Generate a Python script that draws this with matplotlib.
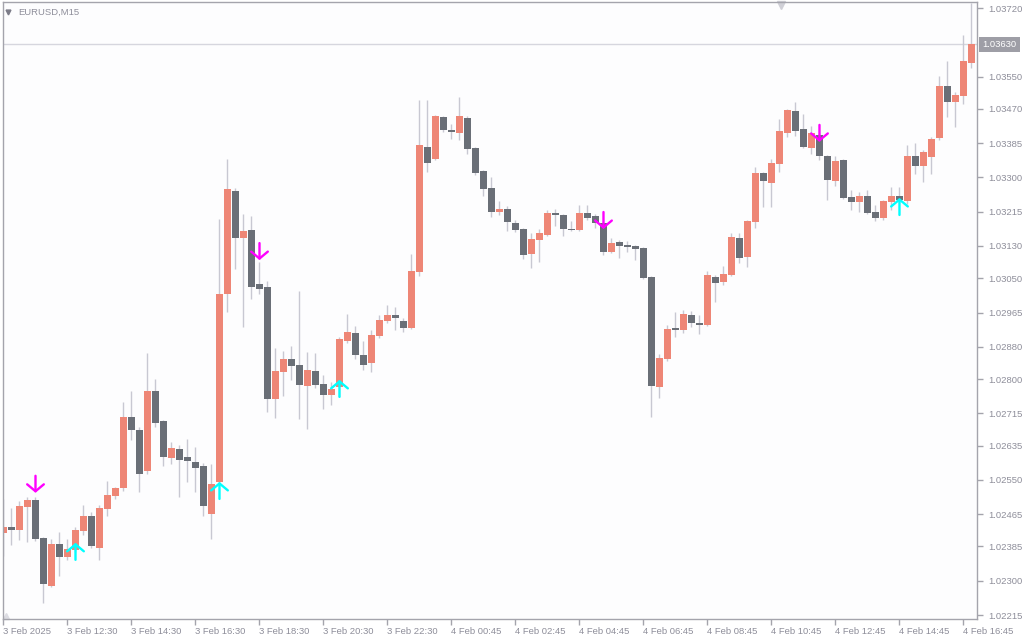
import numpy as np
import matplotlib
matplotlib.use("Agg")
import matplotlib.pyplot as plt
import matplotlib.transforms as mtransforms

# EURUSD M15 candles, 3 Feb 10:30 -> 4 Feb 17:00
opens = [1.02418, 1.02433, 1.02426, 1.02483, 1.02500, 1.02406, 1.02287, 1.02391, 1.02359, 1.02376,
         1.02423, 1.02460, 1.02381, 1.02478, 1.02510, 1.02530, 1.02706, 1.02674, 1.02572, 1.02770,
         1.02696, 1.02604, 1.02627, 1.02607, 1.02594, 1.02584, 1.02465, 1.02545, 1.03011, 1.03266,
         1.03150, 1.03170, 1.03036, 1.03028, 1.02751, 1.02817, 1.02850, 1.02835, 1.02783, 1.02820,
         1.02788, 1.02760, 1.02780, 1.02894, 1.02914, 1.02860, 1.02840, 1.02907, 1.02944, 1.02959,
         1.02944, 1.02927, 1.03065, 1.03375, 1.03346, 1.03450, 1.03417, 1.03410, 1.03447, 1.03373,
         1.03316, 1.03274, 1.03214, 1.03222, 1.03187, 1.03172, 1.03110, 1.03145, 1.03157, 1.03212,
         1.03207, 1.03172, 1.03170, 1.03212, 1.03204, 1.03187, 1.03115, 1.03140, 1.03132, 1.03130,
         1.03125, 1.03053, 1.02780, 1.02850, 1.02927, 1.02922, 1.02959, 1.02939, 1.02934, 1.03053,
         1.03041, 1.03058, 1.03150, 1.03103, 1.03189, 1.03311, 1.03286, 1.03333, 1.03410, 1.03465,
         1.03420, 1.03373, 1.03405, 1.03353, 1.03291, 1.03343, 1.03251, 1.03239, 1.03254, 1.03214,
         1.03199, 1.03239, 1.03254, 1.03241, 1.03353, 1.03328, 1.03351, 1.03398, 1.03527, 1.03487,
         1.03502, 1.03584]
highs = [1.02503, 1.02480, 1.02498, 1.02508, 1.02508, 1.02408, 1.02403, 1.02421, 1.02403, 1.02433,
         1.02488, 1.02470, 1.02488, 1.02547, 1.02532, 1.02743, 1.02770, 1.02681, 1.02865, 1.02800,
         1.02698, 1.02644, 1.02636, 1.02651, 1.02632, 1.02592, 1.02589, 1.03197, 1.03346, 1.03274,
         1.03209, 1.03204, 1.03090, 1.03043, 1.02877, 1.02870, 1.02882, 1.03018, 1.02867, 1.02865,
         1.02810, 1.02793, 1.02904, 1.02961, 1.02932, 1.02894, 1.02922, 1.02959, 1.02984, 1.02979,
         1.02951, 1.03110, 1.03492, 1.03492, 1.03455, 1.03452, 1.03432, 1.03499, 1.03452, 1.03375,
         1.03318, 1.03301, 1.03241, 1.03229, 1.03194, 1.03174, 1.03162, 1.03172, 1.03219, 1.03222,
         1.03209, 1.03192, 1.03232, 1.03232, 1.03209, 1.03192, 1.03150, 1.03145, 1.03142, 1.03132,
         1.03127, 1.03055, 1.02862, 1.02934, 1.02966, 1.02971, 1.02969, 1.02959, 1.03068, 1.03058,
         1.03080, 1.03162, 1.03162, 1.03194, 1.03326, 1.03313, 1.03346, 1.03445, 1.03470, 1.03487,
         1.03457, 1.03427, 1.03410, 1.03355, 1.03353, 1.03345, 1.03269, 1.03264, 1.03269, 1.03232,
         1.03244, 1.03276, 1.03276, 1.03380, 1.03385, 1.03368, 1.03400, 1.03551, 1.03589, 1.03512,
         1.03653, 1.03732]
lows = [1.02361, 1.02389, 1.02401, 1.02396, 1.02398, 1.02245, 1.02284, 1.02312, 1.02351, 1.02371,
        1.02413, 1.02381, 1.02351, 1.02460, 1.02503, 1.02522, 1.02649, 1.02520, 1.02565, 1.02681,
        1.02584, 1.02589, 1.02508, 1.02545, 1.02520, 1.02460, 1.02403, 1.02540, 1.02966, 1.03073,
        1.02929, 1.02998, 1.03011, 1.02718, 1.02703, 1.02758, 1.02798, 1.02701, 1.02676, 1.02778,
        1.02726, 1.02736, 1.02755, 1.02889, 1.02850, 1.02822, 1.02817, 1.02902, 1.02939, 1.02922,
        1.02917, 1.02924, 1.03056, 1.03313, 1.03343, 1.03413, 1.03395, 1.03393, 1.03358, 1.03306,
        1.03254, 1.03202, 1.03207, 1.03167, 1.03165, 1.03098, 1.03075, 1.03090, 1.03155, 1.03179,
        1.03155, 1.03167, 1.03167, 1.03194, 1.03175, 1.03108, 1.03113, 1.03100, 1.03115, 1.03095,
        1.03048, 1.02706, 1.02753, 1.02845, 1.02904, 1.02914, 1.02929, 1.02912, 1.02932, 1.02991,
        1.03033, 1.03056, 1.03088, 1.03078, 1.03175, 1.03227, 1.03227, 1.03313, 1.03400, 1.03403,
        1.03373, 1.03358, 1.03343, 1.03244, 1.03279, 1.03246, 1.03219, 1.03214, 1.03209, 1.03192,
        1.03194, 1.03219, 1.03237, 1.03234, 1.03308, 1.03289, 1.03308, 1.03393, 1.03450, 1.03425,
        1.03482, 1.03571]
closes = [1.02433, 1.02426, 1.02485, 1.02500, 1.02403, 1.02292, 1.02391, 1.02359, 1.02379, 1.02426,
          1.02460, 1.02386, 1.02480, 1.02513, 1.02530, 1.02706, 1.02674, 1.02565, 1.02770, 1.02691,
          1.02607, 1.02629, 1.02599, 1.02597, 1.02579, 1.02485, 1.02540, 1.03011, 1.03271, 1.03150,
          1.03167, 1.03028, 1.03023, 1.02751, 1.02820, 1.02850, 1.02832, 1.02785, 1.02822, 1.02785,
          1.02760, 1.02775, 1.02899, 1.02917, 1.02860, 1.02835, 1.02909, 1.02946, 1.02959, 1.02951,
          1.02927, 1.03068, 1.03380, 1.03336, 1.03452, 1.03417, 1.03413, 1.03452, 1.03370, 1.03311,
          1.03271, 1.03214, 1.03222, 1.03189, 1.03170, 1.03108, 1.03147, 1.03162, 1.03212, 1.03207,
          1.03172, 1.03170, 1.03212, 1.03199, 1.03187, 1.03115, 1.03137, 1.03130, 1.03127, 1.03122,
          1.03051, 1.02783, 1.02852, 1.02924, 1.02922, 1.02961, 1.02939, 1.02934, 1.03058, 1.03038,
          1.03060, 1.03152, 1.03100, 1.03192, 1.03311, 1.03291, 1.03336, 1.03415, 1.03467, 1.03415,
          1.03375, 1.03410, 1.03353, 1.03293, 1.03341, 1.03249, 1.03239, 1.03254, 1.03212, 1.03199,
          1.03241, 1.03254, 1.03244, 1.03353, 1.03328, 1.03363, 1.03395, 1.03527, 1.03487, 1.03504,
          1.03589, 1.03630]

# signal arrows: bar index and price at the arrow tip
sell_bars = [4, 32, 75, 102]
sell_prices = [1.02518, 1.03095, 1.03172, 1.03388]
buy_bars = [9, 27, 42, 112]
buy_prices = [1.02394, 1.02545, 1.02798, 1.03249]

last_price = 1.03630

x_labels = ["3 Feb 2025", "3 Feb 12:30", "3 Feb 14:30", "3 Feb 16:30", "3 Feb 18:30",
            "3 Feb 20:30", "3 Feb 22:30", "4 Feb 00:45", "4 Feb 02:45", "4 Feb 04:45",
            "4 Feb 06:45", "4 Feb 08:45", "4 Feb 10:45", "4 Feb 12:45", "4 Feb 14:45",
            "4 Feb 16:45"]
y_ticks = [1.03720, 1.03550, 1.03470, 1.03385, 1.03300, 1.03215, 1.03130, 1.03050,
           1.02965, 1.02880, 1.02800, 1.02715, 1.02635, 1.02550, 1.02465, 1.02385,
           1.02300, 1.02215]

bull_col = '#ee8676'
bear_col = '#6a6f77'
wick_col = '#c8c8d2'
text_col = '#8e8e9a'
frame_col = '#a4a4ac'

plt.rcParams['font.family'] = ['Liberation Sans', 'DejaVu Sans']

fig = plt.figure(figsize=(10.24, 6.4), dpi=100, facecolor='white')
ax = fig.add_axes([2.5 / 1024, 21 / 640, 974.5 / 1024, 617 / 640])
ax.set_facecolor('#fdfdfe')

o = np.array(opens)
h = np.array(highs)
l = np.array(lows)
c = np.array(closes)
idx = np.arange(len(o))
up = c >= o

ax.vlines(idx, l, h, color=wick_col, lw=1, zorder=1)
body_h = np.maximum(np.abs(c - o), 0.00002)
ax.bar(idx, body_h, bottom=np.minimum(o, c), width=0.86,
       color=np.where(up, bull_col, bear_col), linewidth=0, zorder=2)

# current price line
ax.axhline(last_price, color='#d6d6de', lw=1, zorder=0)

arrow_style = '->,head_length=0.5,head_width=0.6'
for b, p in zip(sell_bars, sell_prices):
    ax.annotate('', xy=(b, p), xytext=(0, 17), textcoords='offset pixels',
                arrowprops=dict(arrowstyle=arrow_style, color='#ff00ff', lw=1.7,
                                shrinkA=0, shrinkB=0), zorder=4)
for b, p in zip(buy_bars, buy_prices):
    ax.annotate('', xy=(b, p), xytext=(0, -17), textcoords='offset pixels',
                arrowprops=dict(arrowstyle=arrow_style, color='#00ffff', lw=1.7,
                                shrinkA=0, shrinkB=0), zorder=4)

ax.set_xlim(-0.125, 121.69)
ax.set_ylim(1.022051, 1.037349)

ax.set_xticks(np.arange(0, 8 * len(x_labels), 8))
ax.set_xticklabels(x_labels)
for lab in ax.get_xticklabels():
    lab.set_horizontalalignment('left')
ax.set_yticks(y_ticks)
ax.set_yticklabels([f"{v:.5f}" for v in y_ticks])
ax.yaxis.tick_right()
ax.tick_params(axis='both', colors=frame_col, labelcolor=text_col, labelsize=6.8,
               length=4, width=1)
ax.tick_params(axis='x', pad=2)
ax.tick_params(axis='y', pad=4)
for s in ax.spines.values():
    s.set_color(frame_col)
    s.set_linewidth(1)

# price label box on the right axis
trans = mtransforms.blended_transform_factory(ax.transAxes, ax.transData)
ax.text(1.0055, last_price, "1.03630", transform=trans, ha='left', va='center',
        fontsize=6.8, color='white', clip_on=False,
        bbox=dict(boxstyle='square,pad=0.35', facecolor='#9e9ea6', edgecolor='none'))

# symbol caption and small markers
ax.text(16 / 974.5, 1 - 10 / 617, "EURUSD,M15", transform=ax.transAxes,
        ha='left', va='center', fontsize=6.8, color=text_col)
ax.plot([5 / 974.5], [1 - 10 / 617], marker='v', markersize=3.5, color='#7c7c88',
        transform=ax.transAxes, clip_on=False)
ax.plot([778.5 / 974.5], [1 - 3 / 617], marker='v', markersize=6, color='#cfcfd6',
        transform=ax.transAxes, clip_on=False)
ax.plot([3 / 974.5], [3 / 617], marker='^', markersize=4, color='#dcdce2',
        transform=ax.transAxes, clip_on=False)

fig.savefig('out.png', dpi=100, facecolor='white')
